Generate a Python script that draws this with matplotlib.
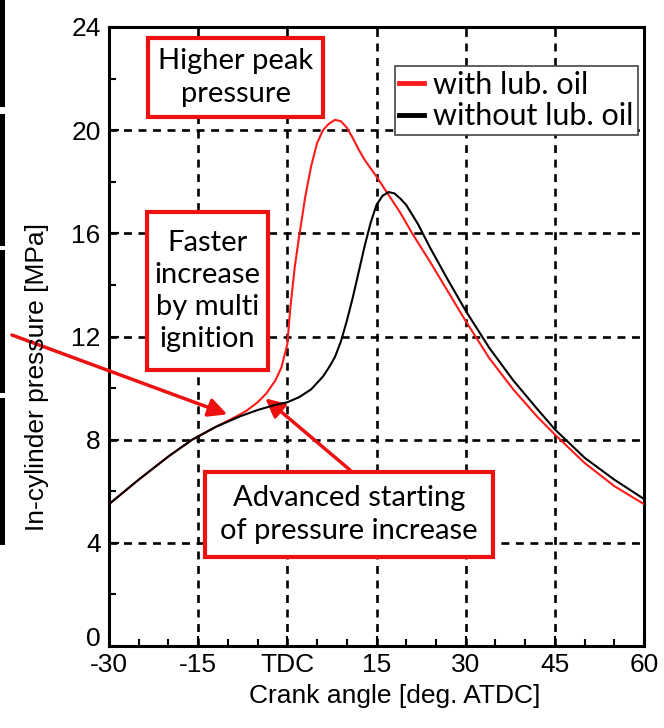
import matplotlib
matplotlib.use('Agg')
import matplotlib.pyplot as plt
import matplotlib.transforms as mtransforms
from matplotlib.patches import Rectangle

plt.rcParams['font.family'] = ['Liberation Sans', 'DejaVu Sans']

W, H = 664, 728

# crank angle [deg ATDC] and pressure [MPa], without lubricating oil
ang_dry = [-30, -25, -20, -16, -12, -8, -5, -2, 0, 2, 4, 6, 7, 8, 9, 10, 11, 12, 13, 14,
           15, 16, 17, 18, 19, 20, 22, 24, 27, 30, 34, 38, 42, 45, 50, 55, 60]
p_dry = [5.5, 6.45, 7.35, 8.0, 8.5, 8.9, 9.15, 9.35, 9.45, 9.65, 9.95, 10.45, 10.8, 11.2,
         11.8, 12.6, 13.5, 14.5, 15.5, 16.4, 17.1, 17.45, 17.6, 17.55, 17.35, 17.1, 16.35,
         15.45, 14.2, 13.0, 11.55, 10.3, 9.2, 8.4, 7.3, 6.45, 5.7]

# with lubricating oil
ang_oil = [-30, -25, -20, -16, -12, -9, -7, -5, -3.5, -2, -1, 0, 0.5, 1.25, 2, 3, 4, 5, 6,
           7, 8, 9, 10, 11, 12, 13, 15, 17, 19, 21, 24, 27, 30, 34, 38, 42, 45, 50, 55, 60]
p_oil = [5.5, 6.45, 7.35, 8.0, 8.5, 8.85, 9.1, 9.45, 9.8, 10.3, 10.8, 11.7, 13.1, 14.7,
         15.9, 17.4, 18.6, 19.5, 20.0, 20.25, 20.4, 20.35, 20.1, 19.7, 19.25, 18.85, 18.2,
         17.5, 16.8, 16.0, 14.9, 13.75, 12.6, 11.15, 9.95, 8.9, 8.2, 7.1, 6.2, 5.5]

xticks = [-30, -15, 0, 15, 30, 45, 60]
xticklabels = ['-30', '-15', 'TDC', '15', '30', '45', '60']
yticks = [0, 4, 8, 12, 16, 20, 24]


def fx(px):
    return px / W


def fy(py):
    return 1 - py / H


fig = plt.figure(figsize=(W / 100, H / 100), dpi=100)
ax = fig.add_axes([fx(109), fy(646), fx(644) - fx(109), fy(27) - fy(646)])

ax.plot(ang_oil, p_oil, color='#ff1a1a', lw=1.5, label='with lub. oil', zorder=3)
ax.plot(ang_dry, p_dry, color='black', lw=1.5, label='without lub. oil', zorder=4)

ax.set_xlim(-30, 60)
ax.set_ylim(0, 24)
ax.set_xticks(xticks)
ax.set_xticklabels(xticklabels)
ax.set_yticks(yticks)
ax.set_xticks(range(-30, 61, 5), minor=True)
ax.set_yticks(range(0, 25, 2), minor=True)
ax.tick_params(which='both', direction='in', width=1.5, labelsize=19)
ax.tick_params(which='major', length=7)
ax.tick_params(which='minor', length=5)
ax.tick_params(axis='x', pad=5)
ax.tick_params(axis='y', pad=6)
ax.grid(True, which='major', color='black', ls=(0, (3, 2.5)), lw=1.9)
for s in ax.spines.values():
    s.set_linewidth(2.2)

# lift the "0" a little so it sits clear of the "-30" below it
fig.canvas.draw()
zero = ax.get_yticklabels()[0]
zero.set_transform(zero.get_transform() +
                   mtransforms.ScaledTranslation(0, 7 / 72, fig.dpi_scale_trans))

# axis titles
fig.text(fx(395), fy(696), 'Crank angle [deg. ATDC]', fontsize=19, ha='center', va='center')
fig.text(fx(37), fy(377), 'In-cylinder pressure [MPa]', fontsize=19, rotation=90,
         ha='center', va='center')

leg = ax.legend(loc='upper right', bbox_to_anchor=(fx(638), fy(66)),
                bbox_transform=fig.transFigure, prop={'family': 'Lato', 'size': 22},
                frameon=True, fancybox=False, handlelength=0.8, handletextpad=0.3,
                borderpad=0.15, labelspacing=0.12, borderaxespad=0)
leg.get_frame().set_edgecolor('#444444')
leg.get_frame().set_linewidth(1.2)
leg.get_frame().set_alpha(1)
for ln in leg.get_lines():
    ln.set_linewidth(3.5)

# annotation boxes: (left, top, right, bottom) in pixels, text
boxes = [
    ((148, 38, 323, 117), 'Higher peak\npressure'),
    ((147, 212, 268, 370), 'Faster\nincrease\nby multi\nignition'),
    ((205, 472, 493, 557), 'Advanced starting\nof pressure increase'),
]
for (l, t, r, b), txt in boxes:
    fig.patches.append(Rectangle((fx(l), fy(b)), fx(r) - fx(l), fy(t) - fy(b),
                                 transform=fig.transFigure, facecolor='white',
                                 edgecolor='#ee1111', lw=3, zorder=5))
    fig.text(fx((l + r) / 2), fy((t + b) / 2), txt, ha='center', va='center',
             family='Lato', fontsize=21, linespacing=1.3, zorder=6)

# arrows pointing at where the curves split
arrow = dict(arrowstyle='-|>', color='#ee1111', lw=2.5, mutation_scale=28,
             shrinkA=0, shrinkB=0)
ax.annotate('', xy=(-10.1, 8.98), xycoords='data', xytext=(12, H - 335),
            textcoords='figure pixels', arrowprops=arrow, annotation_clip=False)
ax.annotate('', xy=(-3.7, 9.6), xycoords='data', xytext=(350, H - 470),
            textcoords='figure pixels', arrowprops=arrow, annotation_clip=False)

# dark strips along the left edge
for t, b in [(0, 107), (114, 246), (250, 393), (398, 545)]:
    fig.patches.append(Rectangle((0, fy(b)), fx(5), fy(t) - fy(b),
                                 transform=fig.transFigure, facecolor='black',
                                 edgecolor='none', zorder=7))

fig.savefig('out.png', dpi=100)
